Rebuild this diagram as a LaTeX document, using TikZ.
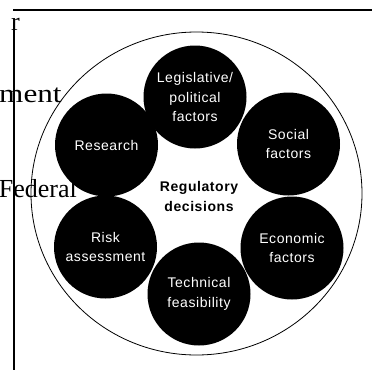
\documentclass[tikz,border=0pt]{standalone}
\usepackage{fontspec}
\newfontfamily\factorfont[LetterSpace=4]{Liberation Sans}
\newfontfamily\pagefont{Liberation Serif}
\usetikzlibrary{%
    positioning,
    shapes.geometric
}

\begin{document}
\begin{tikzpicture}[x=1pt, y=-1pt,
    factor/.style={circle, fill=black, inner sep=0pt, minimum size=103pt,
                   text=white, align=center,
                   font=\factorfont\fontsize{14}{19.5}\selectfont},
    pagetext/.style={inner sep=0pt, font=\pagefont\fontsize{26}{26}\selectfont},
    rule/.style={line width=1.5pt}]
    \useasboundingbox (0,0) rectangle (372,370);

    % cut page edge on the left
    \coordinate (ruleL) at (13,10);
    \coordinate (ruleR) at (372,10);
    \coordinate (barT) at (14,22);
    \coordinate (barB) at (14,370);
    \draw[rule] (ruleL) -- (ruleR);
    \draw[rule] (barT) -- (barB);
    \node (pr) [pagetext, anchor=base west] at (11,30) {r};
    \node (pment) [pagetext, anchor=base west, xscale=1.2] at (-1,102) {ment};
    \node (pfed) [pagetext, anchor=base east] at (77,197) {Federal};

    % outer ring
    \node (ring) [draw, ellipse, line width=0.8pt, inner sep=0pt,
                  minimum width=331pt, minimum height=323pt] at (196.5,193.5) {};

    \node (legis) [factor] at (195,97)   {Legislative/\\political\\factors};
    \node (social) [factor] at (288.5,144) {Social\\factors};
    \node (econ) [factor] at (292,248)   {Economic\\factors};
    \node (tech) [factor] at (199,294)   {Technical\\feasibility};
    \node (risk) [factor] at (105.5,247) {Risk\\assessment};
    \node (research) [factor] at (106.5,145) {Research};

    \node (center) [align=center, font=\factorfont\bfseries\fontsize{14}{20}\selectfont]
        at (199,196) {Regulatory\\decisions};
\end{tikzpicture}
\end{document}
